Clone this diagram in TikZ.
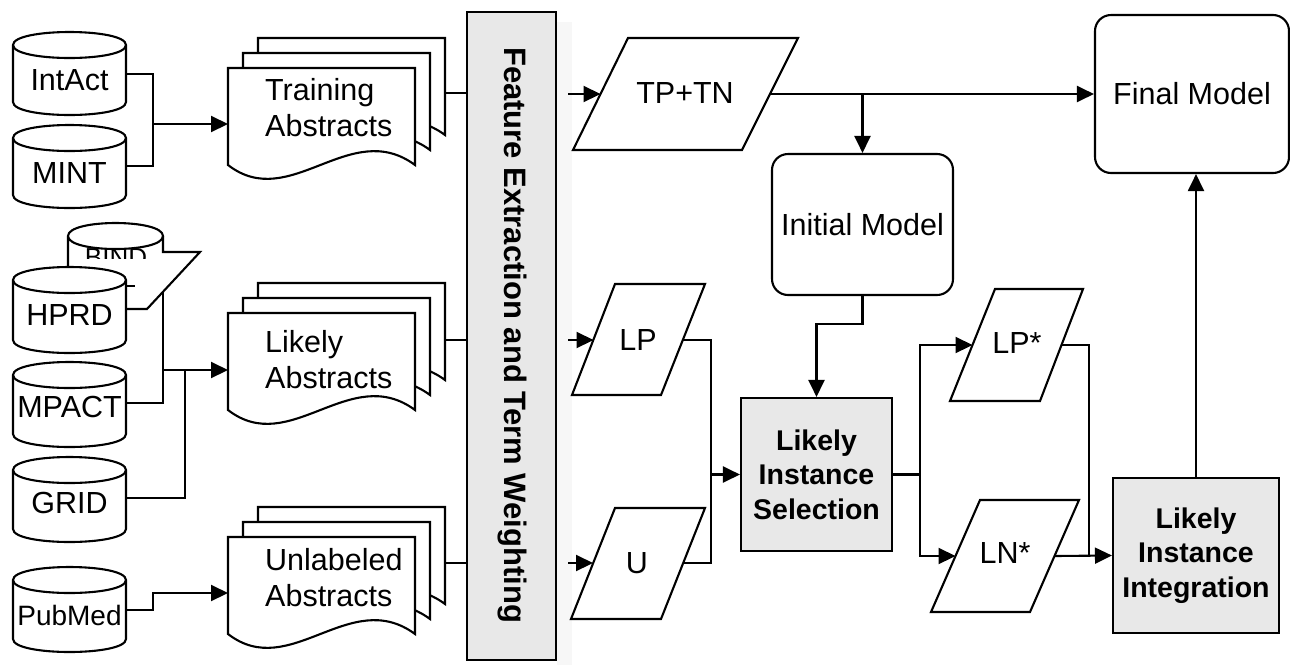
\documentclass[tikz,border=0pt]{standalone}
\usepackage{fontspec}
\setmainfont{Liberation Sans}
\usetikzlibrary{arrows.meta}
\definecolor{boxgray}{HTML}{E8E8E8}
\newcommand\dbcyl[4]{%
  \draw[shp] (#1,#3+13) -- (#1,#4-13) .. controls (#1,#4+4.33) and (#2,#4+4.33) .. (#2,#4-13) -- (#2,#3+13) .. controls (#2,#3-4.33) and (#1,#3-4.33) .. (#1,#3+13) -- cycle;
  \draw[ln] (#1,#3+13) .. controls (#1,#3+30.33) and (#2,#3+30.33) .. (#2,#3+13);
}
\newcommand\docshp[2]{%
  \draw[shp] (#1,#2+97) -- (#1,#2) -- (#1+187,#2) -- (#1+187,#2+97) .. controls (#1+122,#2+49) and (#1+62,#2+145) .. (#1,#2+97) -- cycle;
}
\newcommand\docstack[2]{\docshp{#1+30}{#2-30}\docshp{#1+15}{#2-15}\docshp{#1}{#2}}
\begin{document}
\begin{tikzpicture}[x=1pt,y=-1pt,
  ln/.style={line width=2.1pt},
  arr/.style={line width=2.1pt,-{Triangle[length=17pt,width=16pt]}},
  shp/.style={line width=2.1pt,draw,fill=white,line join=miter},
  lbl/.style={font=\fontsize{30.5}{36.5}\selectfont,inner sep=0pt},
  rbox/.style={draw,line width=2.1pt,fill=white,rounded corners=16pt,inner sep=0pt,font=\fontsize{30.5}{36}\selectfont},
  gbox/.style={draw,line width=2.1pt,fill=boxgray,inner sep=0pt,align=center,font=\bfseries\fontsize{28.5}{34.5}\selectfont}]
\useasboundingbox (0,0) rectangle (1290,665);
\fill[black!3] (557,22) rectangle (572,665);

% ---------- databases ----------
\dbcyl{13}{126}{32}{115}
\node[lbl,anchor=base] (intact) at (69.5,90) {IntAct};
\dbcyl{13}{126}{125}{208}
\node[lbl,anchor=base] (mint) at (69.5,183) {MINT};
% BIND (partly hidden)
\draw[ln] (68,236) .. controls (68,253.33) and (163,253.33) .. (163,236) .. controls (163,218.67) and (68,218.67) .. (68,236) -- (68,268);
\begin{scope}
\clip (60,200) rectangle (170,258);
\node[font=\fontsize{26}{30}\selectfont,inner sep=0pt,anchor=base] (bind) at (116,266) {BIND};
\end{scope}
\dbcyl{13}{126}{267}{353}
\node[lbl,anchor=base] (hprd) at (69.5,325) {HPRD};
\draw[ln,line join=miter] (163,236) -- (163,252) -- (200,252) -- (147,309) -- (126,309);
\draw[ln] (126,286) -- (135,286);
\dbcyl{13}{126}{362}{447}
\node[lbl,anchor=base] (mpact) at (69.5,417) {MPACT};
\dbcyl{13}{126}{457}{542}
\node[lbl,anchor=base] (grid) at (69.5,513) {GRID};
\dbcyl{13}{126}{567}{652}
\node[font=\fontsize{28}{32}\selectfont,inner sep=0pt,anchor=base] (pubmed) at (69.5,625) {PubMed};

% ---------- documents ----------
\docstack{228}{68}
\node[lbl,anchor=north west,align=left] (train) at (265,78) {Training\\Abstracts};
\docstack{228}{313}
\node[lbl,anchor=north west,align=left] (likely) at (265,330) {Likely\\Abstracts};
\docstack{228}{537}
\node[lbl,anchor=north west,align=left] (unlab) at (265,548) {Unlabeled\\Abstracts};

% ---------- feature box ----------
\node[draw,line width=2.1pt,fill=boxgray,minimum width=89pt,minimum height=648pt,inner sep=0pt] (feat) at (511.5,336) {};
\node[font=\bfseries\fontsize{31}{36}\selectfont,rotate=-90,inner sep=0pt] (feattxt) at (512,335) {Feature Extraction and Term Weighting};

% ---------- parallelograms ----------
\draw[shp] (628,38) -- (798,38) -- (742,150) -- (573,150) -- cycle;
\node[lbl,anchor=base] (tptn) at (685,103) {TP+TN};
\draw[shp] (615,284) -- (705,284) -- (661,395) -- (572,395) -- cycle;
\node[lbl,anchor=base] (lp) at (638,350) {LP};
\draw[shp] (615,508) -- (705,508) -- (661,619) -- (571,619) -- cycle;
\node[lbl,anchor=base] (u) at (637,573) {U};
\draw[shp] (995,289) -- (1083,289) -- (1040,401) -- (950,401) -- cycle;
\node[lbl,anchor=base] (lps) at (1017,353) {LP*};
\draw[shp] (980,500) -- (1079,500) -- (1030,612) -- (931,612) -- cycle;
\node[lbl,anchor=base] (lns) at (1005,563) {LN*};

% ---------- process boxes ----------
\node[rbox,minimum width=194pt,minimum height=158pt] (final) at (1192,94) {Final Model};
\node[rbox,minimum width=181pt,minimum height=141pt] (init) at (862.5,224.5) {Initial Model};
\node[gbox,minimum width=151pt,minimum height=153pt] (sel) at (816.5,474.5) {Likely\\Instance\\Selection};
\node[gbox,minimum width=166pt,minimum height=155pt] (integ) at (1196,555.5) {Likely\\Instance\\Integration};

% ---------- named connection points ----------
\coordinate (intact-e) at (126,74);
\coordinate (mint-e) at (126,166);
\coordinate (tbus) at (153,124);
\coordinate (train-w) at (228,124);
\coordinate (bindbus) at (163,292);
\coordinate (lbus) at (163,370);
\coordinate (gbus) at (185,370);
\coordinate (mpact-e) at (126,403);
\coordinate (grid-e) at (126,498);
\coordinate (likely-w) at (228,370);
\coordinate (pub-e) at (126,610);
\coordinate (unlab-w) at (228,593);
\coordinate (train-e) at (445,93);
\coordinate (likely-e) at (445,340);
\coordinate (unlab-e) at (445,563);
\coordinate (s1) at (568,94);
\coordinate (s2) at (568,340);
\coordinate (s3) at (568,563);
\coordinate (tptn-w) at (600.5,94);
\coordinate (tptn-e) at (770,94);
\coordinate (lp-w) at (593.5,340);
\coordinate (lp-e) at (683,340);
\coordinate (u-w) at (593,563);
\coordinate (u-e) at (683,563);
\coordinate (lpbus) at (711,340);
\coordinate (lps-w) at (972.5,345);
\coordinate (lps-e) at (1061.5,345);
\coordinate (lns-w) at (955.5,556);
\coordinate (lns-e) at (1054.5,556);
\coordinate (lpsbus) at (1089,556);

% ---------- connectors ----------
\draw[ln] (intact-e) -- ++(27,0) |- (mint-e);
\draw[arr] (tbus) -- (train-w);
\draw[ln] (bindbus) -- (lbus);
\draw[ln] (mpact-e) -| (lbus);
\draw[ln] (grid-e) -| (gbus);
\draw[arr] (lbus) -- (likely-w);
\draw[arr] (pub-e) -- ++(27,0) |- (unlab-w);
\draw[ln] (train-e) -- (train-e -| feat.west);
\draw[ln] (likely-e) -- (likely-e -| feat.west);
\draw[ln] (unlab-e) -- (unlab-e -| feat.west);
\draw[arr] (s1) -- (tptn-w);
\draw[arr] (s2) -- (lp-w);
\draw[arr] (s3) -- (u-w);
\draw[arr] (tptn-e) -- (final.west |- tptn-e);
\draw[arr] (init.north |- tptn-e) -- (init.north);
\draw[arr] (init.south) -- ++(0,28) -| (sel.north);
\draw[ln] (lp-e) -- (lpbus) |- (u-e);
\draw[arr] (lpbus |- sel.west) -- (sel.west);
\draw[ln] (sel.east) -- ++(27,0) coordinate (selbus);
\draw[arr] (selbus) |- (lps-w);
\draw[arr] (selbus) |- (lns-w);
\draw[ln] (lps-e) -| (lpsbus);
\draw[arr] (lns-e) -- (integ.west);
\draw[arr] (integ.north) -- (integ.north |- final.south);
\end{tikzpicture}
\end{document}
